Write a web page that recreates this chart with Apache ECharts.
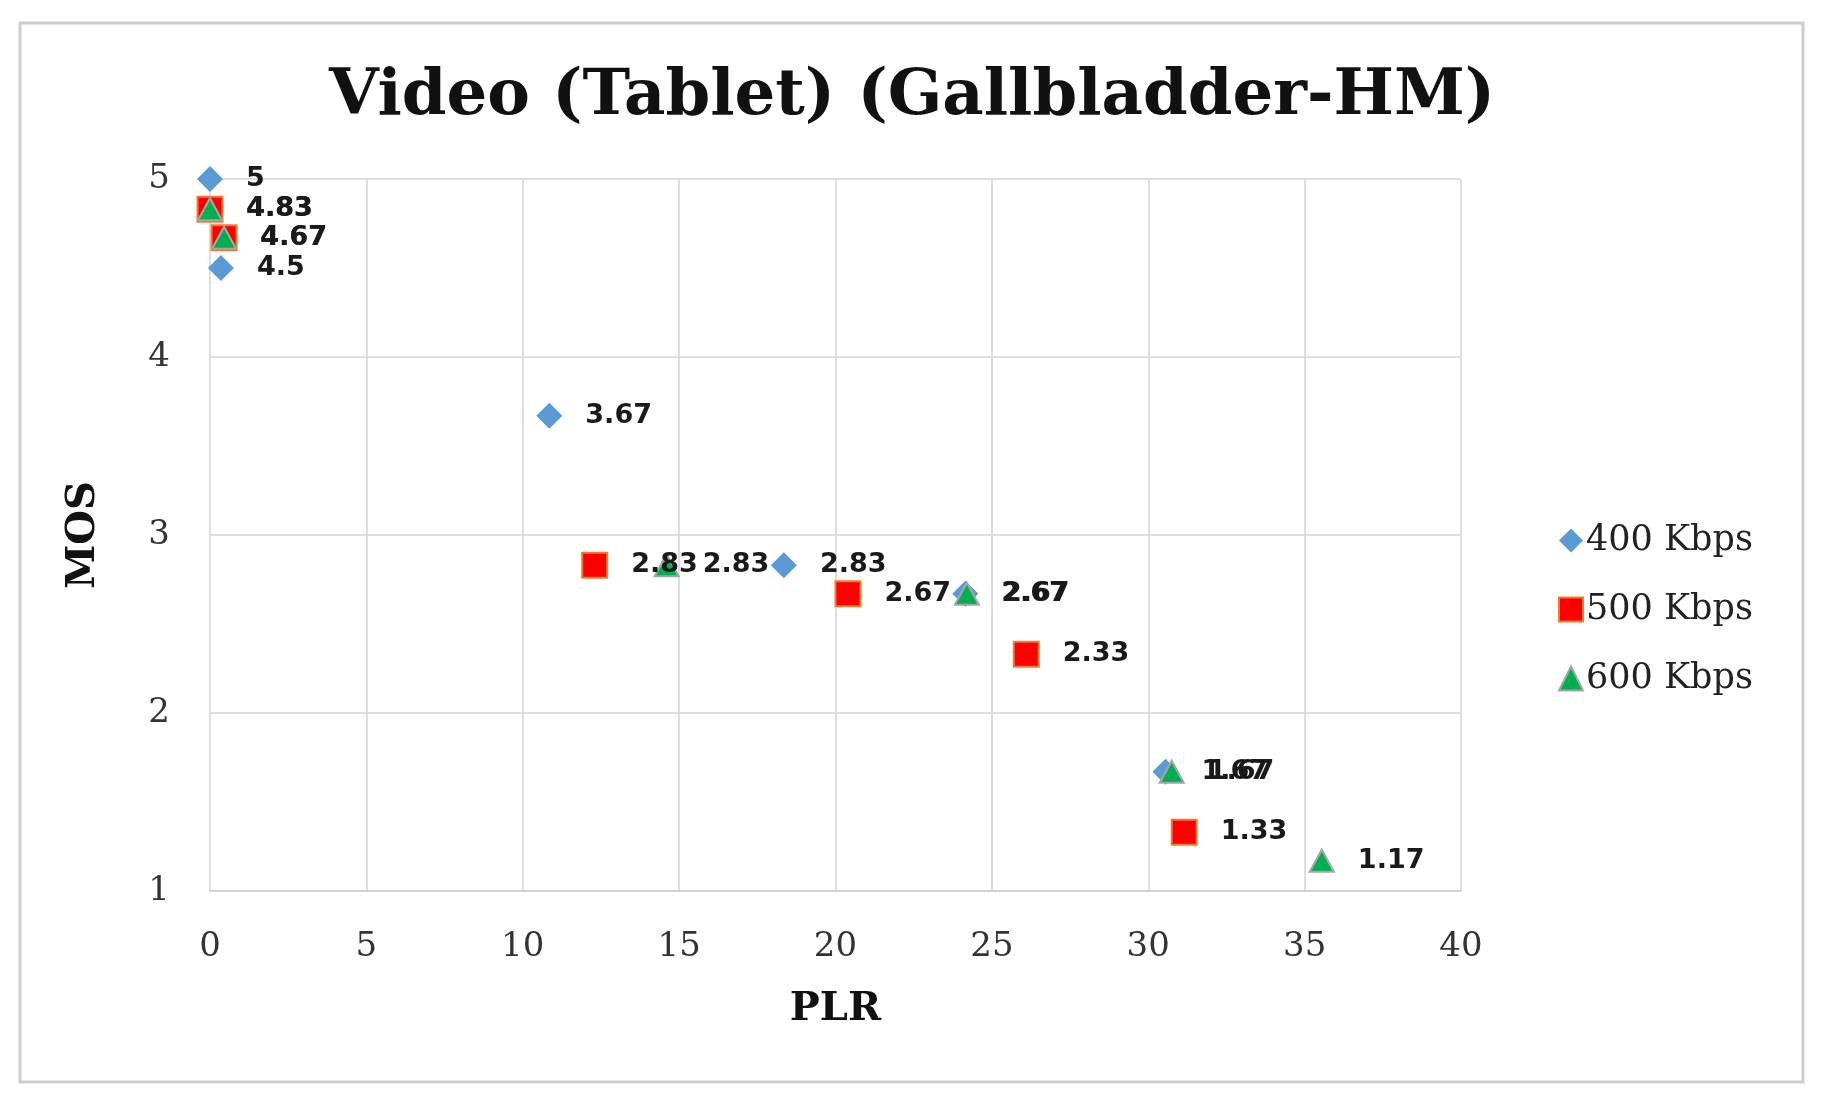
<!DOCTYPE html>
<html>
<head>
<meta charset="utf-8">
<title>Video (Tablet) (Gallbladder-HM)</title>
<script src="https://cdn.jsdelivr.net/npm/echarts@6/dist/echarts.min.js"></script>
<style>
    html, body { margin: 0; padding: 0; background: #fff; }
    #chart { width: 1824px; height: 1104px; }
</style>
</head>
<body>
<div id="chart"></div>
<script>
// PLR (x) / MOS (y) per bitrate
var seriesNames = ['400 Kbps', '500 Kbps', '600 Kbps'];

var plr400 = [0, 0.35, 10.85, 18.35, 24.15, 30.55];
var mos400 = [5, 4.5, 3.67, 2.83, 2.67, 1.67];

var plr500 = [0, 0.45, 12.3, 20.4, 26.1, 31.15];
var mos500 = [4.83, 4.67, 2.83, 2.67, 2.33, 1.33];

var plr600 = [0, 0.45, 14.6, 24.2, 30.75, 35.55];
var mos600 = [4.83, 4.67, 2.83, 2.67, 1.67, 1.17];

function pairs(xs, ys) {
    return xs.map(function (x, i) { return [x, ys[i]]; });
}

function pointLabel() {
    return {
        show: true,
        position: 'right',
        distance: 23,
        formatter: function (p) { return p.value[1]; },
        fontFamily: 'DejaVu Sans',
        fontWeight: 'bold',
        fontSize: 27,
        color: '#1a1a1a'
    };
}

function scatter(name, data, symbol, size, itemStyle) {
    itemStyle.opacity = 1;
    return {
        name: name,
        type: 'scatter',
        data: data,
        symbol: symbol,
        symbolSize: size,
        itemStyle: itemStyle,
        label: pointLabel(),
        labelLayout: { hideOverlap: false },
        emphasis: { disabled: true }
    };
}

var chart = echarts.init(document.getElementById('chart'));

var serifFont = 'DejaVu Serif';

chart.setOption({
    backgroundColor: '#fff',
    animation: false,
    graphic: [{
        type: 'rect',
        shape: { x: 20, y: 23, width: 1783, height: 1059 },
        style: { fill: 'none', stroke: '#cdcdcd', lineWidth: 3 },
        z: -1
    }],
    title: {
        text: 'Video (Tablet) (Gallbladder-HM)',
        left: 'center',
        top: 60,
        textStyle: {
            fontFamily: serifFont,
            fontWeight: 'bold',
            fontSize: 64,
            color: '#111'
        }
    },
    legend: {
        orient: 'vertical',
        left: 1553,
        top: 518,
        itemGap: 34,
        itemWidth: 24,
        itemHeight: 24,
        data: seriesNames,
        textStyle: {
            fontFamily: serifFont,
            fontSize: 35,
            color: '#222',
            padding: [0, 0, 0, -2]
        }
    },
    grid: {
        left: 210,
        right: 363,
        top: 179,
        bottom: 213
    },
    xAxis: {
        type: 'value',
        min: 0,
        max: 40,
        interval: 5,
        name: 'PLR',
        nameLocation: 'middle',
        nameGap: 99,
        nameTextStyle: {
            fontFamily: serifFont,
            fontWeight: 'bold',
            fontSize: 40,
            color: '#111'
        },
        axisLine: { show: true, lineStyle: { color: '#d4d4d4', width: 2 } },
        axisTick: { show: false },
        axisLabel: {
            margin: 39,
            fontFamily: serifFont,
            fontSize: 34,
            color: '#333'
        },
        splitLine: { show: true, lineStyle: { color: '#dedede', width: 2 } }
    },
    yAxis: {
        type: 'value',
        min: 1,
        max: 5,
        interval: 1,
        name: 'MOS',
        nameLocation: 'middle',
        nameGap: 106,
        nameTextStyle: {
            fontFamily: serifFont,
            fontWeight: 'bold',
            fontSize: 40,
            color: '#111'
        },
        axisLine: { show: true, lineStyle: { color: '#dedede', width: 2 } },
        axisTick: { show: false },
        axisLabel: {
            margin: 40,
            fontFamily: serifFont,
            fontSize: 34,
            color: '#333'
        },
        splitLine: { show: true, lineStyle: { color: '#dedede', width: 2 } }
    },
    series: [
        scatter(seriesNames[0], pairs(plr400, mos400), 'diamond', 26,
            { color: '#5b9bd5' }),
        scatter(seriesNames[1], pairs(plr500, mos500), 'rect', 25,
            { color: '#ff0000', borderColor: '#ed7d31', borderWidth: 2 }),
        scatter(seriesNames[2], pairs(plr600, mos600), 'triangle', [24, 22],
            { color: '#00b050', borderColor: '#a5a5a5', borderWidth: 2 })
    ]
});
</script>
</body>
</html>
